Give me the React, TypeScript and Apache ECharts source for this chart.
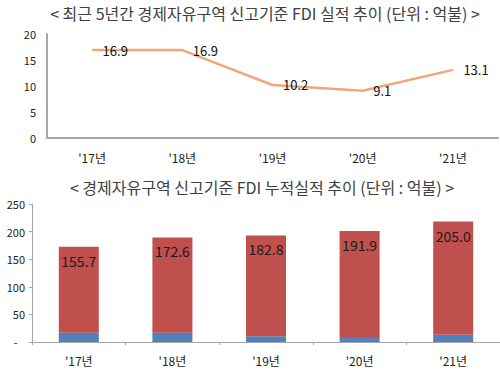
import React, { useEffect, useRef } from "react";
import * as echarts from "echarts";

const categories = ["'17년", "'18년", "'19년", "'20년", "'21년"];
const annualFdi = [16.9, 16.9, 10.2, 9.1, 13.1];
const cumulativeFdi = [155.7, 172.6, 182.8, 191.9, 205.0];
const topTitle = "< 최근 5년간 경제자유구역 신고기준 FDI 실적 추이 (단위 : 억불) >";
const bottomTitle = "< 경제자유구역 신고기준 FDI 누적실적 추이 (단위 : 억불) >";

const FONT = "'Noto Sans CJK KR', 'Noto Sans', sans-serif";

export default function App() {
  const ref = useRef<HTMLDivElement>(null);
  useEffect(() => {
    if (!ref.current) return;
    const chart = echarts.init(ref.current, null, { renderer: "svg" });
    chart.setOption({
      animation: false,
      backgroundColor: "#ffffff",
      textStyle: { fontFamily: FONT },
      title: [
        {
          text: topTitle,
          left: 260,
          top: 0,
          textAlign: "center",
          textStyle: { fontSize: 16, fontWeight: "normal", color: "#404040", fontFamily: FONT },
        },
        {
          text: bottomTitle,
          left: 257,
          top: 174,
          textAlign: "center",
          textStyle: { fontSize: 16, fontWeight: "normal", color: "#404040", fontFamily: FONT },
        },
      ],
      grid: [
        { left: 47, width: 451, top: 34, height: 104 },
        { left: 32, width: 492, top: 204, height: 138 },
      ],
      xAxis: [
        {
          gridIndex: 0,
          type: "category",
          data: categories,
          axisLine: { lineStyle: { color: "#a6a6a6", width: 2 } },
          axisTick: { show: false },
          axisLabel: { color: "#222", fontSize: 12, margin: 13, fontFamily: FONT },
        },
        {
          gridIndex: 1,
          type: "category",
          data: categories,
          axisLine: { lineStyle: { color: "#a6a6a6", width: 1 } },
          axisTick: { show: true, length: 3, lineStyle: { color: "#a6a6a6" } },
          axisLabel: { color: "#222", fontSize: 12, margin: 12, fontFamily: FONT },
        },
      ],
      yAxis: [
        {
          gridIndex: 0,
          type: "value",
          min: 0,
          max: 20,
          interval: 5,
          axisLine: { show: true, lineStyle: { color: "#a6a6a6", width: 2 } },
          axisTick: { show: false },
          splitLine: { show: false },
          axisLabel: { color: "#222", fontSize: 11, margin: 11, fontFamily: FONT },
        },
        {
          gridIndex: 1,
          type: "value",
          min: 0,
          max: 250,
          interval: 50,
          axisLine: { show: true, lineStyle: { color: "#a6a6a6", width: 1 } },
          axisTick: { show: true, length: 3, lineStyle: { color: "#a6a6a6" } },
          splitLine: { show: false },
          axisLabel: {
            color: "#222",
            fontSize: 11,
            margin: 7,
            fontFamily: FONT,
            formatter: (v: number) => (v === 0 ? "-   " : String(v)),
          },
        },
      ],
      series: [
        {
          type: "line",
          xAxisIndex: 0,
          yAxisIndex: 0,
          data: annualFdi,
          symbol: "circle",
          symbolSize: 1,
          showSymbol: true,
          itemStyle: { color: "#f2a67f" },
          lineStyle: { color: "#f2a67f", width: 2.5 },
          label: {
            show: true,
            position: "right",
            distance: 10,
            color: "#111",
            fontSize: 13,
            fontFamily: FONT,
            formatter: (p: any) => Number(p.value).toFixed(1),
          },
        },
        {
          type: "bar",
          xAxisIndex: 1,
          yAxisIndex: 1,
          stack: "total",
          data: annualFdi,
          barWidth: 40,
          itemStyle: { color: "#4f81bd" },
        },
        {
          type: "bar",
          xAxisIndex: 1,
          yAxisIndex: 1,
          stack: "total",
          data: cumulativeFdi,
          barWidth: 40,
          itemStyle: { color: "#c0504d" },
          label: {
            show: true,
            position: "insideTop",
            distance: 7,
            color: "#1a1a1a",
            fontSize: 14,
            fontFamily: FONT,
            formatter: (p: any) => Number(p.value).toFixed(1),
          },
        },
      ],
    });
    return () => chart.dispose();
  }, []);
  return (
    <div
      ref={ref}
      style={{ position: "absolute", left: 0, top: 0, width: 500, height: 371, background: "#fff" }}
    />
  );
}
